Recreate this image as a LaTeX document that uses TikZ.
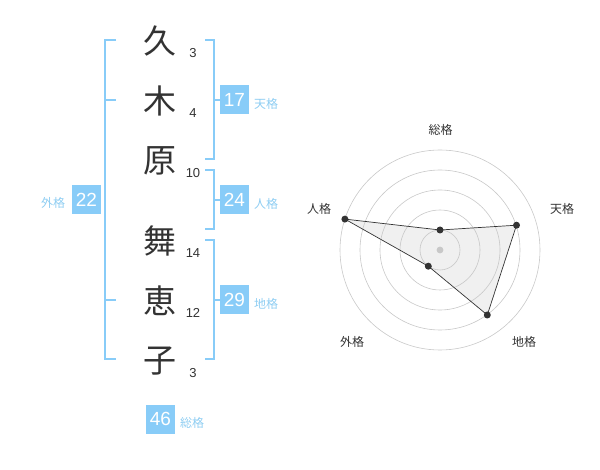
\documentclass[tikz,border=0pt]{standalone}
\usepackage{fontspec}
\setmainfont{Liberation Sans}
\newfontfamily\cjk{Noto Sans CJK JP}
\definecolor{kblue}{HTML}{88CCF8}
\definecolor{klabel}{HTML}{8ECDF2}
\definecolor{kdark}{HTML}{333333}
\definecolor{kgrid}{HTML}{C8C8C8}
\definecolor{kfill}{HTML}{F0F0F0}
\tikzset{
  kanji/.style={font=\cjk\fontsize{33}{33}\selectfont, text=kdark, inner sep=0pt},
  stroke/.style={font=\fontsize{13}{13}\selectfont, text=kdark, inner sep=0pt},
  numbox/.style={fill=kblue, text=white, font=\fontsize{19}{19}\selectfont, minimum width=29pt, minimum height=29pt, inner sep=0pt},
  kaku/.style={font=\cjk\fontsize{12}{12}\selectfont, text=klabel, inner sep=0pt},
  bracket/.style={draw=kblue, line width=2pt},
  axlabel/.style={font=\cjk\fontsize{12}{12}\selectfont, text=kdark, inner sep=0pt},
  ring/.style={draw=kgrid, line width=0.6pt},
  dot/.style={circle, fill=kdark, minimum size=7pt, inner sep=0pt},
}
\begin{document}
\begin{tikzpicture}[x=1pt,y=-1pt]
\useasboundingbox (0,0) rectangle (600,470);
% characters
\node[kanji] (c1) at (160,41) {久};
\node[kanji] (c2) at (160,101) {木};
\node[kanji] (c3) at (160,161) {原};
\node[kanji] (c4) at (160,241) {舞};
\node[kanji] (c5) at (160,301) {恵};
\node[kanji] (c6) at (160,361) {子};
\node[stroke] (n1) at (193,53) {3};
\node[stroke] (n2) at (193,113) {4};
\node[stroke] (n3) at (193,173) {10};
\node[stroke] (n4) at (193,253) {14};
\node[stroke] (n5) at (193,313) {12};
\node[stroke] (n6) at (193,373) {3};
% left bracket (gaikaku)
\draw[bracket] (116,40) -- (105,40) -- (105,359) -- (116,359);
\draw[bracket] (105,100) -- (116,100);
\draw[bracket] (105,300) -- (116,300);
\node[numbox] (b22) at (86.5,200) {22};
\node[kaku] (l22) at (53,203) {外格};
% tenkaku
\draw[bracket] (205,40) -- (214,40) -- (214,159) -- (205,159);
\draw[bracket] (214,100) -- (220,100);
\node[numbox] (b17) at (234.5,100) {17};
\node[kaku] (l17) at (266,104) {天格};
% jinkaku
\draw[bracket] (205,170) -- (214,170) -- (214,229) -- (205,229);
\draw[bracket] (214,200) -- (220,200);
\node[numbox] (b24) at (234.5,200) {24};
\node[kaku] (l24) at (266,204) {人格};
% chikaku
\draw[bracket] (205,240) -- (214,240) -- (214,359) -- (205,359);
\draw[bracket] (214,300) -- (220,300);
\node[numbox] (b29) at (234.5,300) {29};
\node[kaku] (l29) at (266,304) {地格};
% soukaku
\node[numbox] (b46) at (160.5,419) {46};
\node[kaku] (l46) at (192,423) {総格};
% radar
\coordinate (O) at (440,250);
\coordinate (pT) at (516.5,225.2);
\coordinate (pC) at (487.3,315);
\coordinate (pG) at (428.3,266.2);
\coordinate (pJ) at (344.9,219.1);
\coordinate (pS) at (440,230);
\fill[kfill] (pS) -- (pT) -- (pC) -- (pG) -- (pJ) -- cycle;
\foreach \r in {20,40,60,80,100} \draw[ring] (O) circle (\r);
\fill[kgrid] (O) circle (3.4);
\draw[kdark, line width=0.7pt] (pS) -- (pT) -- (pC) -- (pG) -- (pJ) -- cycle;
\foreach \p in {pS,pT,pC,pG,pJ} \node[dot] at (\p) {};
\node[axlabel] (aS) at (440.5,130) {総格};
\node[axlabel] (aT) at (562,208.5) {天格};
\node[axlabel] (aC) at (524,342) {地格};
\node[axlabel] (aG) at (352,342) {外格};
\node[axlabel] (aJ) at (319,208.5) {人格};
\end{tikzpicture}
\end{document}
